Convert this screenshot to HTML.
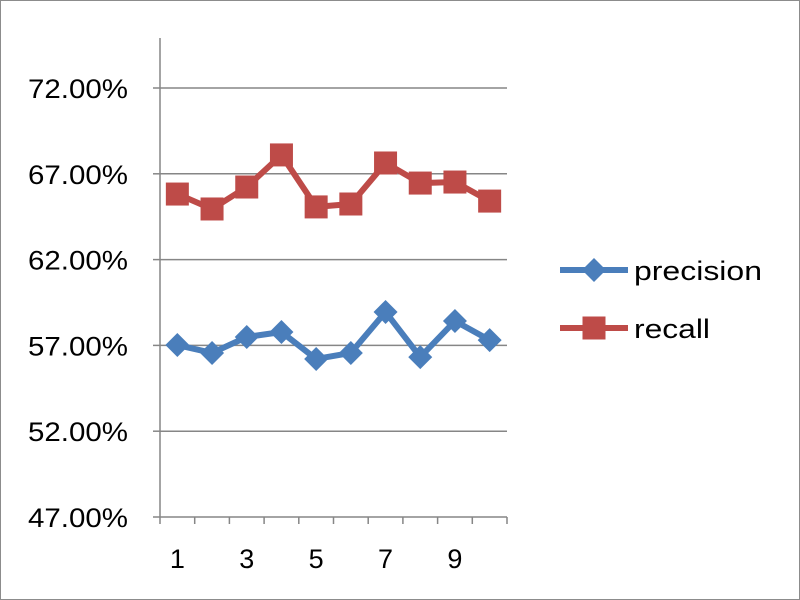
<!DOCTYPE html>
<html><head><meta charset="utf-8"><style>
body{margin:0;background:#fff}
svg{display:block;font-family:"Liberation Sans",sans-serif}
</style></head><body>
<svg id="chart" width="800" height="600">
<rect x="0.5" y="0.5" width="799" height="599" fill="#fff" stroke="#8c8c8c"/>
<g id="grid"></g><g id="axes"></g><g id="series"></g><g id="legend"></g>
</svg>
<script>
const categories=[1,2,3,4,5,6,7,8,9,10];
const precision=[57.02,56.56,57.49,57.78,56.21,56.56,58.95,56.32,58.42,57.31];
const recall=[65.82,64.95,66.23,68.10,65.07,65.24,67.63,66.46,66.52,65.41];
const yTicks=[47,52,57,62,67,72];
const xLabels=['1','','3','','5','','7','','9',''];
const NS='http://www.w3.org/2000/svg';
const x0=160,x1=507,yBot=517,pxPer=17.16;
const band=(x1-x0)/categories.length;
function xs(i){return x0+band*(i+0.5);}
function ys(v){return yBot-(v-47)*pxPer;}
function mk(tag,attrs,parent,text){const e=document.createElementNS(NS,tag);for(const k in attrs)e.setAttribute(k,attrs[k]);if(text!==undefined)e.textContent=text;parent.appendChild(e);return e;}
const grid=document.getElementById('grid'),axes=document.getElementById('axes'),ser=document.getElementById('series'),leg=document.getElementById('legend');
yTicks.forEach(t=>{
 const y=ys(t);
 if(t>47){const g=mk('line',{x1:x0,x2:x1,y1:y,y2:y,stroke:'#868686','stroke-width':1.5},grid);
 
 }
 const tk=mk('line',{x1:x0-7,x2:x0,y1:y,y2:y,stroke:'#868686','stroke-width':1.5},axes);
 
 
 const l=mk('text',{x:28,y:y+10,'font-size':27,textLength:100,lengthAdjust:'spacingAndGlyphs',fill:'#000'},axes,t.toFixed(2)+'%');
 
 
});
const ya=mk('line',{x1:x0,x2:x0,y1:38,y2:yBot,stroke:'#868686','stroke-width':1.5},axes);


const xa=mk('line',{x1:x0,x2:x1,y1:yBot,y2:yBot,stroke:'#868686','stroke-width':1.5},axes);


for(let i=0;i<=categories.length;i++){const x=x0+band*i;const t=mk('line',{x1:x,x2:x,y1:yBot,y2:yBot+7,stroke:'#868686','stroke-width':1.5},axes);
 
 }
xLabels.forEach((s,i)=>{if(!s)return;const l=mk('text',{x:xs(i),y:568,'text-anchor':'middle','font-size':27},axes,s);
 
 });
function diamond(x,y,r,c,p){return mk('path',{d:`M${x} ${y-r}L${x+r} ${y}L${x} ${y+r}L${x-r} ${y}Z`,fill:c},p);}
function square(x,y,r,c,p){return mk('rect',{x:x-r,y:y-r,width:2*r,height:2*r,fill:c},p);}
function drawSeries(vals,color,shape,name){
 const pl=mk('polyline',{points:vals.map((v,i)=>xs(i)+','+ys(v)).join(' '),fill:'none',stroke:color,'stroke-width':6,'stroke-linejoin':'round'},ser);
 
 
 vals.forEach((v,i)=>{const m=shape==='d'?diamond(xs(i),ys(v),12,color,ser):square(xs(i),ys(v),11.5,color,ser);
 
 });
}
drawSeries(precision,'#4a7ebb','d','precision');
drawSeries(recall,'#be4b48','s','recall');
[['precision','#4a7ebb','d',270,128],['recall','#be4b48','s',328,76]].forEach(([n,c,s,y,w])=>{
 const g=mk('g',{},leg);
 
 
 mk('line',{x1:560,x2:628,y1:y,y2:y,stroke:c,'stroke-width':6},g);
 if(s==='d')diamond(594,y,12,c,g);else square(594,y,11.5,c,g);
 mk('text',{x:634,y:y+10,'font-size':27,textLength:w,lengthAdjust:'spacingAndGlyphs'},g,n);
});
</script>
</body></html>
